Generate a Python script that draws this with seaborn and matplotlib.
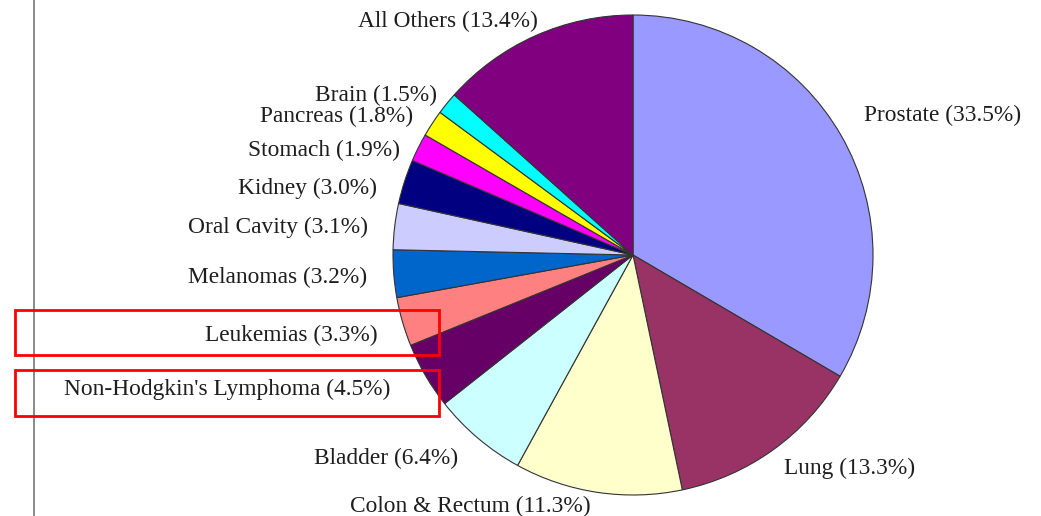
import matplotlib
matplotlib.use("Agg")
import matplotlib.pyplot as plt
import seaborn as sns
from matplotlib.patches import Rectangle

sns.set_theme(style="white")
plt.rcParams['font.family'] = ['Liberation Serif', 'DejaVu Serif']

# Data (clockwise from 12 o'clock)
categories = ["Prostate", "Lung", "Colon & Rectum", "Bladder", "Non-Hodgkin's Lymphoma",
              "Leukemias", "Melanomas", "Oral Cavity", "Kidney", "Stomach", "Pancreas",
              "Brain", "All Others"]
percents = [33.5, 13.3, 11.3, 6.4, 4.5, 3.3, 3.2, 3.1, 3.0, 1.9, 1.8, 1.5, 13.4]
colors = ["#9999FF", "#993366", "#FFFFCC", "#CCFFFF", "#660066", "#FF8080", "#0066CC",
          "#CCCCFF", "#000080", "#FF00FF", "#FFFF00", "#00FFFF", "#800080"]

# Label anchor positions in pixels (center x, center y) of the 1041x516 canvas
label_px = [(943, 115), (850, 468), (470, 506), (386, 458), (227, 389), (291, 335),
            (278, 277), (278, 227), (307, 188), (324, 150), (337, 116), (376, 95),
            (448, 21)]
highlighted = ["Leukemias", "Non-Hodgkin's Lymphoma"]
box_px = {"Leukemias": (15, 310, 439, 355), "Non-Hodgkin's Lymphoma": (15, 370, 439, 416)}

W, H = 1041, 516
CX, CY, R = 633, 255, 240

fig = plt.figure(figsize=(W / 100, H / 100), dpi=100)
ax = fig.add_axes([0, 0, 1, 1])

def px2d(px, py):
    return (px - CX) / R, (CY - py) / R

ax.pie(percents, colors=colors, startangle=90, counterclock=False,
       wedgeprops=dict(edgecolor="#333333", linewidth=0.8))

ax.set_xlim(-CX / R, (W - CX) / R)
ax.set_ylim(-(H - CY) / R, CY / R)
ax.set_aspect('equal', adjustable='box')
ax.set_position([0, 0, 1, 1])
ax.axis('off')

for cat, pct, (px, py) in zip(categories, percents, label_px):
    x, y = px2d(px, py)
    ax.text(x, y, f"{cat} ({pct:.1f}%)", ha='center', va='center',
            fontsize=16.8, color="#1e1e1e")

for cat in highlighted:
    x0, y0, x1, y1 = box_px[cat]
    a, b = px2d(x0, y1)
    c, d = px2d(x1, y0)
    ax.add_patch(Rectangle((a, b), c - a, d - b, fill=False, edgecolor="#FF0000",
                           linewidth=2, zorder=5))

# left vertical rule
lx, _ = px2d(34, 0)
ax.plot([lx, lx], [-(H - CY) / R, CY / R], color="#777777", linewidth=1.2)

fig.savefig("out.png", dpi=100)
